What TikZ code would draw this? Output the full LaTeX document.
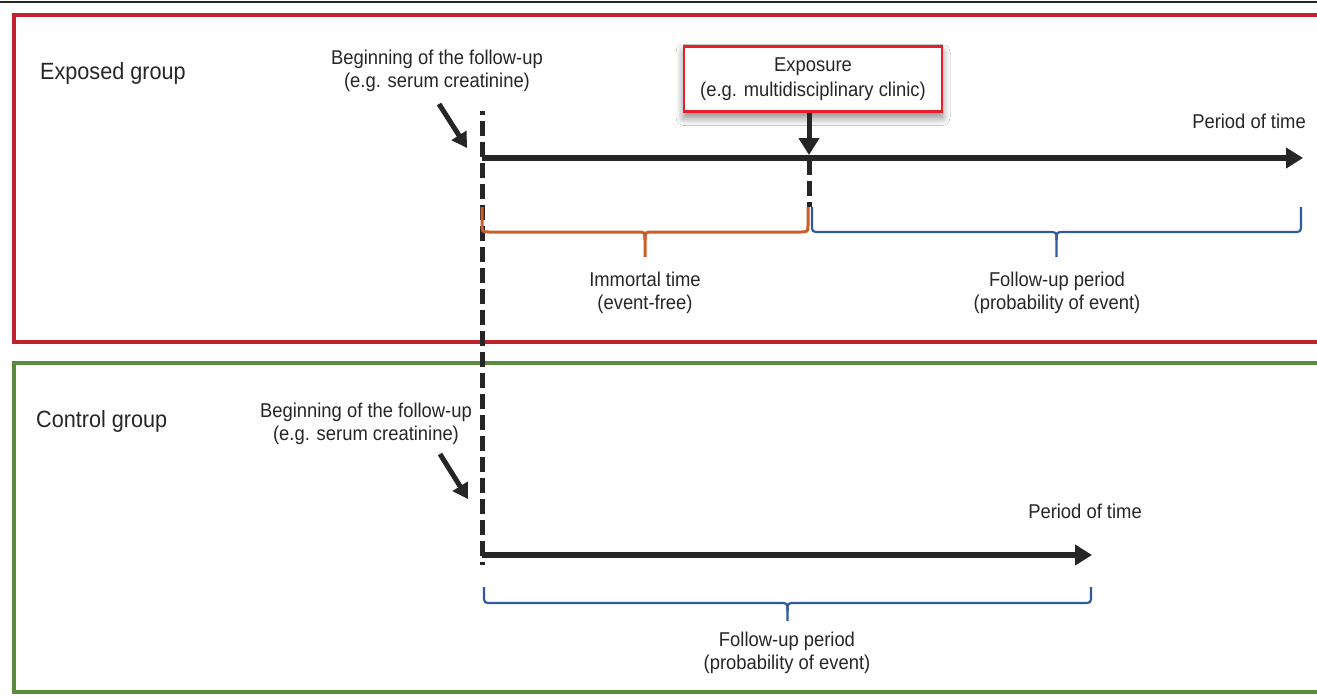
\documentclass[tikz,border=0pt]{standalone}
\usepackage{fontspec}
\setmainfont{Liberation Sans}[FakeStretch=0.92]
\usetikzlibrary{arrows.meta,shadows.blur}
\definecolor{boxred}{HTML}{C1212B}
\definecolor{boxgreen}{HTML}{5B8A3C}
\definecolor{exred}{HTML}{E4202C}
\definecolor{brorange}{HTML}{C95F28}
\definecolor{brblue}{HTML}{2F5B9E}
\definecolor{txt}{HTML}{262626}
\newcommand\mybrace[6]{% style, x0, x1, ytop, ymid, ytip
  \pgfmathsetmacro\xm{(#2+#3)/2}
  \draw[#1] (#2,#4) -- (#2,#5-8) .. controls (#2,#5) .. (#2+8,#5) -- (\xm-8,#5)
    .. controls (\xm,#5) .. (\xm,#5+8) -- (\xm,#6);
  \draw[#1] (\xm,#5+8) .. controls (\xm,#5) .. (\xm+8,#5) -- (#3-8,#5)
    .. controls (#3,#5) .. (#3,#5-8) -- (#3,#4);
}
\begin{document}
\begin{tikzpicture}[x=1pt,y=-1pt,
  lbl/.style={font=\fontsize{20}{25}\selectfont, text=txt, inner sep=0pt, anchor=base},
  grp/.style={font=\fontsize{23.5}{28}\selectfont, text=txt, inner sep=0pt, anchor=base west},
  tline/.style={line width=5.5pt, draw=txt, -{Triangle[length=17pt,width=20pt]}},
  pointer/.style={line width=5pt, draw=txt, -{Triangle[length=15pt,width=17pt]}},
  dashv/.style={line width=5pt, draw=txt, dash pattern=on 15pt off 6pt},
  groupbox/.style={line width=4pt},
  obrace/.style={line width=3pt, brorange, line join=round},
  bbrace/.style={line width=2.2pt, brblue, line join=round},
  expbox/.style={draw=exred, line width=2.2pt, fill=white, minimum width=258pt, minimum height=65pt,
    align=center, font=\fontsize{20}{25}\selectfont, text=txt,
    blur shadow={shadow xshift=0pt, shadow yshift=-6pt, shadow blur radius=8pt, shadow blur steps=14, shadow opacity=50}}
]
\useasboundingbox (0,0) rectangle (1317,697);
\clip (0,0) rectangle (1317,697);
\fill[white] (0,0) rectangle (1317,697);

% top rule
\draw[line width=2.5pt, txt] (0,2) -- (1317,2);

% group boxes
\draw[groupbox, boxred] (14,15) rectangle (1335,342);
\draw[groupbox, boxgreen] (14,363) rectangle (1335,692);

% coordinates
\coordinate (dtop) at (482,111);
\coordinate (dbot) at (482,565);
\coordinate (t1s) at (482,158);
\coordinate (t1e) at (1303,158);
\coordinate (t2s) at (482,555);
\coordinate (t2e) at (1092,555);
\coordinate (xon) at (809,155);
\coordinate (xd1) at (809,160);
\coordinate (xd2) at (809,207);
\coordinate (a1s) at (439,104);
\coordinate (a1e) at (467,148);
\coordinate (a2s) at (440,454);
\coordinate (a2e) at (468,499);

% dashed start line
\draw[dashv, dash phase=11pt] (dtop) -- (dbot);
\draw[dashv] (xd1) -- (xd2);

% timelines
\draw[tline] (t1s) -- (t1e);
\draw[tline] (t2s) -- (t2e);

% labels exposed
\node[grp] (eg) at (40,79) {Exposed group};
\node[lbl] (b1a) at (437,64) {Beginning of the follow-up};
\node[lbl] (b1b) at (437,87) {(e.g. serum creatinine)};
\draw[pointer] (a1s) -- (a1e);

\node[expbox] (expo) at (813,79) {Exposure\\(e.g. multidisciplinary clinic)};
\draw[line width=5pt, txt, -{Triangle[length=17pt,width=20pt]}] (expo.south -| xon) -- (xon);

\node[lbl] (pt1) at (1249,128) {Period of time};

\mybrace{obrace}{482}{808}{207}{232}{257}
\mybrace{bbrace}{812}{1301}{207}{232}{257}

\node[lbl] (im1) at (645,286) {Immortal time};
\node[lbl] (im2) at (645,309) {(event-free)};
\node[lbl] (fu1) at (1057,286) {Follow-up period};
\node[lbl] (fu2) at (1057,309) {(probability of event)};

% labels control
\node[grp] (cg) at (36,427) {Control group};
\node[lbl] (b2a) at (366,417) {Beginning of the follow-up};
\node[lbl] (b2b) at (366,440) {(e.g. serum creatinine)};
\draw[pointer] (a2s) -- (a2e);

\node[lbl] (pt2) at (1085,518) {Period of time};

\mybrace{bbrace}{484}{1091}{587}{603}{621}
\node[lbl] (fu3) at (787,646) {Follow-up period};
\node[lbl] (fu4) at (787,669) {(probability of event)};
\end{tikzpicture}
\end{document}
